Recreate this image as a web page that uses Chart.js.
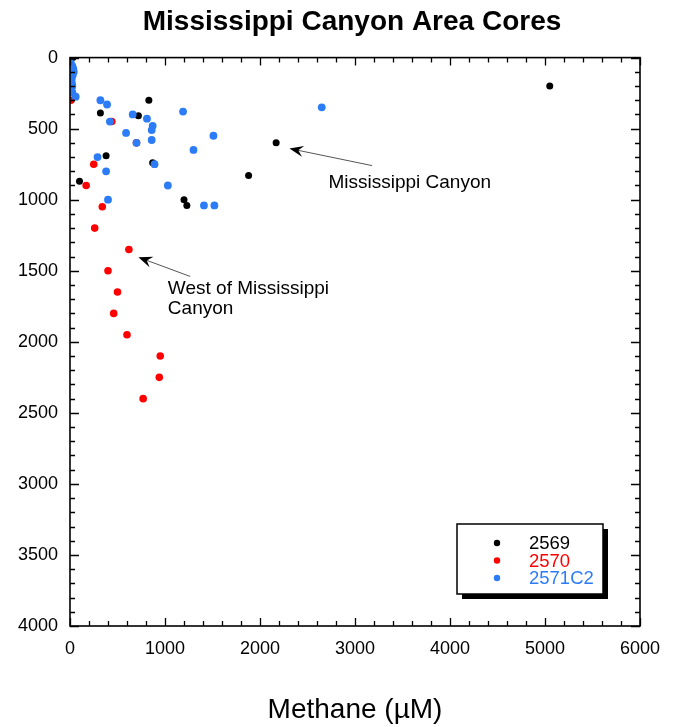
<!DOCTYPE html>
<html>
<head>
<meta charset="utf-8">
<script src="https://cdn.jsdelivr.net/npm/chart.js@4/dist/chart.umd.min.js"></script>
<style>
  html, body { margin: 0; padding: 0; background: #ffffff; }
  #wrap { width: 675px; height: 727px; }
</style>
</head>
<body>
<div id="wrap"><canvas id="c" width="675" height="727"></canvas></div>
<script>
// ---- Data ----
const seriesNames = ['2569', '2570', '2571C2'];
const seriesColors = ['#000000', '#ff0000', '#2b7cf6'];

const methane2569 = [30, 5050, 2170, 1880, 830, 320, 720, 380, 870, 100, 1200, 1230];
const depth2569   = [0, 200, 600, 830, 300, 390, 410, 690, 740, 870, 1000, 1040];

const methane2570 = [10, 440, 700, 250, 170, 340, 260, 620, 400, 500, 460, 600, 950, 940, 770];
const depth2570   = [300, 450, 600, 750, 900, 1050, 1200, 1350, 1500, 1650, 1800, 1950, 2100, 2250, 2400];

const methane2571C2 = [10, 25, 35, 40, 30, 20, 15, 20, 25, 15, 25, 60,
                       320, 390, 1190, 420, 660, 810, 870, 860, 590, 700, 860, 1300, 290, 890, 380, 1030, 400, 1410, 1520, 2650, 1510];
const depth2571C2   = [40, 60, 80, 100, 120, 140, 160, 180, 200, 220, 245, 275,
                       300, 330, 380, 450, 400, 430, 480, 510, 530, 600, 580, 650, 700, 750, 800, 900, 1000, 1040, 1040, 350, 550];

const xTicks = [0, 1000, 2000, 3000, 4000, 5000, 6000];
const yTicks = [0, 500, 1000, 1500, 2000, 2500, 3000, 3500, 4000];

const annotations = [
  { lines: ['Mississippi Canyon'], textX: 2720, textY: 880, tailX: 3180, tailY: 760, headX: 2310, headY: 640 },
  { lines: ['West of Mississippi', 'Canyon'], textX: 1030, textY: 1625, tailX: 1265, tailY: 1540, headX: 720, headY: 1405 }
];

function pts(xs, ys) { return xs.map((x, i) => ({ x: x, y: ys[i] })); }
const seriesData = [pts(methane2569, depth2569), pts(methane2570, depth2570), pts(methane2571C2, depth2571C2)];
const radii = [3.5, 3.8, 3.9];
const orders = [3, 2, 1];

const FONT = "'Liberation Sans', Arial, Helvetica, sans-serif";

// ---- Plugins ----
const framePlugin = {
  id: 'frameTicks',
  afterLayout(chart) {
    // centre the title over the page as in the reference
    if (chart.titleBlock) { chart.titleBlock.left = 64; }
  },
  afterDatasetsDraw(chart) {
    const ctx = chart.ctx, a = chart.chartArea;
    const xs = chart.scales.x, ys = chart.scales.y;
    ctx.save();
    ctx.strokeStyle = '#000';
    ctx.lineWidth = 1.3;
    for (let v = xs.min; v <= xs.max + 1e-6; v += 200) {
      const p = Math.round(xs.getPixelForValue(v)) + 0.5;
      const major = Math.abs(v % 1000) < 1e-6;
      const len = major ? 8 : 5;
      ctx.beginPath();
      ctx.moveTo(p, a.bottom); ctx.lineTo(p, a.bottom - len);
      ctx.moveTo(p, a.top); ctx.lineTo(p, a.top + len);
      ctx.stroke();
    }
    for (let v = ys.min; v <= ys.max + 1e-6; v += 100) {
      const p = Math.round(ys.getPixelForValue(v)) + 0.5;
      const major = Math.abs(v % 500) < 1e-6;
      const len = major ? 9 : 5;
      ctx.beginPath();
      ctx.moveTo(a.left, p); ctx.lineTo(a.left + len, p);
      ctx.moveTo(a.right, p); ctx.lineTo(a.right - len, p);
      ctx.stroke();
    }
    ctx.lineWidth = 1.6;
    ctx.strokeRect(a.left, a.top, a.right - a.left, a.bottom - a.top);

    // annotations
    ctx.font = '19px ' + FONT;
    ctx.textBaseline = 'middle';
    ctx.textAlign = 'left';
    annotations.forEach(an => {
      const tx = xs.getPixelForValue(an.textX), ty = ys.getPixelForValue(an.textY);
      ctx.fillStyle = '#000';
      an.lines.forEach((ln, i) => ctx.fillText(ln, tx, ty + i * 20));
      const x1 = xs.getPixelForValue(an.tailX), y1 = ys.getPixelForValue(an.tailY);
      const x2 = xs.getPixelForValue(an.headX), y2 = ys.getPixelForValue(an.headY);
      const ang = Math.atan2(y2 - y1, x2 - x1);
      ctx.strokeStyle = '#555';
      ctx.lineWidth = 1;
      ctx.beginPath(); ctx.moveTo(x1, y1);
      ctx.lineTo(x2 - 8 * Math.cos(ang), y2 - 8 * Math.sin(ang)); ctx.stroke();
      const L = 15, W = 0.38;
      ctx.fillStyle = '#000';
      ctx.beginPath();
      ctx.moveTo(x2, y2);
      ctx.lineTo(x2 - L * Math.cos(ang - W), y2 - L * Math.sin(ang - W));
      ctx.lineTo(x2 - 0.6 * L * Math.cos(ang), y2 - 0.6 * L * Math.sin(ang));
      ctx.lineTo(x2 - L * Math.cos(ang + W), y2 - L * Math.sin(ang + W));
      ctx.closePath(); ctx.fill();
    });

    // legend box
    const bw = 146, bh = 70;
    const bx = a.right - 37 - bw, by = a.bottom - 32 - bh;
    ctx.fillStyle = '#000';
    ctx.fillRect(bx + 5, by + 5, bw, bh);
    ctx.fillStyle = '#fff';
    ctx.fillRect(bx, by, bw, bh);
    ctx.strokeStyle = '#000';
    ctx.lineWidth = 1.5;
    ctx.strokeRect(bx, by, bw, bh);
    ctx.font = '18.5px ' + FONT;
    chart.data.datasets.forEach((ds, i) => {
      const cy = by + 19 + i * 17.5;
      ctx.fillStyle = ds.backgroundColor;
      ctx.beginPath(); ctx.arc(bx + 40, cy, 3.2, 0, Math.PI * 2); ctx.fill();
      ctx.fillText(ds.label, bx + 72, cy + 1);
    });
    ctx.restore();
  }
};

new Chart(document.getElementById('c'), {
  type: 'scatter',
  data: {
    datasets: seriesNames.map((n, i) => ({
      label: n,
      data: seriesData[i],
      backgroundColor: seriesColors[i],
      borderColor: seriesColors[i],
      borderWidth: 0,
      pointRadius: radii[i],
      pointHoverRadius: radii[i],
      order: orders[i]
    }))
  },
  options: {
    responsive: false,
    animation: false,
    devicePixelRatio: 1,
    layout: { padding: { left: 0, right: 35, top: 0, bottom: 0 } },
    plugins: {
      legend: { display: false },
      tooltip: { enabled: false },
      title: {
        display: true,
        text: 'Mississippi Canyon Area Cores',
        color: '#000',
        font: { family: FONT, size: 28, weight: 'bold', lineHeight: 1.2 },
        padding: { top: 5, bottom: 19 }
      }
    },
    scales: {
      x: {
        type: 'linear',
        min: 0, max: 6000,
        afterBuildTicks(s) { s.ticks = xTicks.map(v => ({ value: v })); },
        afterFit(s) { s.height = 101; },
        grid: { display: false, drawTicks: false },
        border: { display: false },
        ticks: { color: '#000', font: { family: FONT, size: 18 }, padding: 12, maxRotation: 0,
                 callback: v => String(v) },
        title: {
          display: true, text: 'Methane (µM)', color: '#000',
          font: { family: FONT, size: 28, lineHeight: 1.2 },
          padding: { top: 0, bottom: 0 }
        }
      },
      y: {
        type: 'linear',
        reverse: true,
        min: 0, max: 4000,
        afterBuildTicks(s) { s.ticks = yTicks.map(v => ({ value: v })); },
        afterFit(s) { s.width = 70; },
        grid: { display: false, drawTicks: false },
        border: { display: false },
        ticks: { color: '#000', font: { family: FONT, size: 18 }, padding: 12,
                 callback: v => String(v) }
      }
    }
  },
  plugins: [framePlugin]
});
</script>
</body>
</html>
